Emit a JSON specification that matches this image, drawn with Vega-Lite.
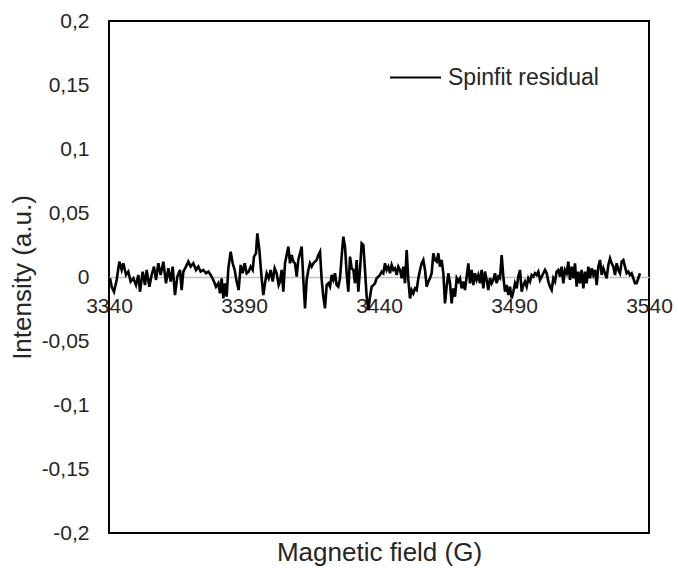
{
  "$schema": "https://vega.github.io/schema/vega-lite/v6.json",
  "autosize": "none",
  "width": 540,
  "height": 512,
  "padding": {"left": 109, "top": 21, "right": 29, "bottom": 38},
  "background": "white",
  "config": {
    "font": "Liberation Sans",
    "view": {"stroke": "black", "strokeWidth": 2}
  },
  "data": {"values": [
    {"B":3340.37,"I":-0.0010},{"B":3340.99,"I":-0.0076},{"B":3341.85,"I":-0.0115},{"B":3342.84,"I":-0.0023},{"B":3343.83,"I":0.0120},{"B":3344.69,"I":0.0055},{"B":3345.31,"I":0.0107},{"B":3346.30,"I":0.0016},{"B":3347.16,"I":0.0042},{"B":3348.02,"I":-0.0036},{"B":3349.01,"I":-0.0010},{"B":3350.00,"I":-0.0063},{"B":3350.86,"I":0.0016},{"B":3351.48,"I":-0.0115},{"B":3352.47,"I":0.0042},{"B":3353.33,"I":-0.0063},{"B":3353.95,"I":0.0055},{"B":3354.94,"I":-0.0076},{"B":3355.80,"I":0.0016},{"B":3356.67,"I":0.0081},{"B":3357.41,"I":-0.0023},{"B":3358.27,"I":0.0107},{"B":3359.14,"I":0.0016},{"B":3360.12,"I":0.0120},{"B":3361.11,"I":-0.0049},{"B":3361.98,"I":0.0068},{"B":3362.84,"I":-0.0036},{"B":3363.58,"I":0.0081},{"B":3364.44,"I":-0.0141},{"B":3365.31,"I":0.0003},{"B":3366.30,"I":0.0055},{"B":3366.91,"I":-0.0102},{"B":3367.53,"I":0.0042},{"B":3368.52,"I":0.0081},{"B":3369.38,"I":0.0120},{"B":3370.25,"I":0.0081},{"B":3371.23,"I":0.0107},{"B":3372.22,"I":0.0055},{"B":3373.09,"I":0.0081},{"B":3373.95,"I":0.0042},{"B":3374.94,"I":0.0055},{"B":3375.93,"I":0.0029},{"B":3376.79,"I":0.0042},{"B":3377.65,"I":0.0016},{"B":3378.64,"I":-0.0023},{"B":3379.63,"I":-0.0076},{"B":3380.49,"I":-0.0049},{"B":3381.11,"I":-0.0128},{"B":3381.73,"I":-0.0010},{"B":3382.35,"I":-0.0167},{"B":3382.96,"I":-0.0049},{"B":3383.58,"I":-0.0154},{"B":3384.20,"I":0.0068},{"B":3385.06,"I":0.0198},{"B":3385.80,"I":0.0107},{"B":3386.54,"I":0.0055},{"B":3387.28,"I":-0.0036},{"B":3388.02,"I":-0.0102},{"B":3388.77,"I":0.0094},{"B":3389.51,"I":0.0029},{"B":3390.25,"I":0.0107},{"B":3390.99,"I":0.0029},{"B":3391.73,"I":0.0042},{"B":3392.47,"I":0.0081},{"B":3393.21,"I":0.0055},{"B":3393.70,"I":0.0159},{"B":3394.44,"I":0.0185},{"B":3394.94,"I":0.0341},{"B":3395.68,"I":0.0211},{"B":3396.54,"I":-0.0010},{"B":3397.16,"I":-0.0141},{"B":3397.78,"I":-0.0049},{"B":3398.40,"I":0.0029},{"B":3399.14,"I":-0.0010},{"B":3399.88,"I":0.0055},{"B":3400.62,"I":-0.0036},{"B":3401.36,"I":0.0068},{"B":3402.10,"I":0.0029},{"B":3402.84,"I":-0.0063},
    {"B":3403.33,"I":-0.0036},{"B":3403.95,"I":0.0055},{"B":3404.57,"I":-0.0115},{"B":3405.19,"I":0.0107},{"B":3405.80,"I":0.0172},{"B":3406.42,"I":0.0237},{"B":3407.04,"I":0.0107},{"B":3407.65,"I":0.0172},{"B":3408.27,"I":0.0120},{"B":3408.89,"I":0.0107},{"B":3409.51,"I":0.0003},{"B":3410.12,"I":0.0133},{"B":3410.74,"I":0.0185},{"B":3411.36,"I":0.0237},{"B":3411.98,"I":-0.0023},{"B":3412.59,"I":-0.0245},{"B":3413.21,"I":-0.0023},{"B":3413.83,"I":0.0055},{"B":3414.44,"I":0.0107},{"B":3415.06,"I":0.0081},{"B":3415.68,"I":0.0107},{"B":3416.30,"I":0.0120},{"B":3416.91,"I":0.0133},{"B":3417.53,"I":0.0172},{"B":3418.15,"I":0.0198},{"B":3418.77,"I":-0.0023},{"B":3419.38,"I":-0.0154},{"B":3420.00,"I":-0.0245},{"B":3420.62,"I":-0.0063},{"B":3421.23,"I":-0.0049},{"B":3421.85,"I":-0.0076},{"B":3422.47,"I":0.0016},{"B":3423.09,"I":-0.0023},{"B":3423.70,"I":0.0029},{"B":3424.32,"I":-0.0063},{"B":3424.94,"I":-0.0076},{"B":3425.56,"I":-0.0010},{"B":3426.17,"I":0.0159},{"B":3426.79,"I":0.0315},{"B":3427.41,"I":0.0237},{"B":3428.02,"I":0.0029},{"B":3428.64,"I":-0.0115},{"B":3429.26,"I":0.0159},{"B":3429.88,"I":0.0068},{"B":3430.49,"I":0.0055},{"B":3431.11,"I":-0.0049},{"B":3431.73,"I":0.0133},{"B":3432.35,"I":-0.0115},{"B":3432.96,"I":0.0055},{"B":3433.58,"I":0.0263},{"B":3434.20,"I":0.0250},{"B":3434.81,"I":0.0055},{"B":3435.43,"I":-0.0154},{"B":3436.05,"I":-0.0258},{"B":3436.67,"I":-0.0154},{"B":3437.28,"I":-0.0076},{"B":3437.90,"I":-0.0063},{"B":3438.52,"I":-0.0049},{"B":3439.14,"I":-0.0010},{"B":3439.75,"I":0.0003},{"B":3440.37,"I":0.0016},{"B":3440.99,"I":0.0042},{"B":3441.60,"I":0.0029},{"B":3442.22,"I":0.0107},{"B":3442.84,"I":0.0055},{"B":3443.46,"I":0.0081},{"B":3444.07,"I":0.0029},{"B":3444.69,"I":0.0094},{"B":3445.31,"I":0.0055},{"B":3445.93,"I":0.0068},{"B":3446.54,"I":0.0016},{"B":3447.16,"I":0.0081},{"B":3447.78,"I":0.0055},{"B":3448.40,"I":-0.0010},{"B":3449.01,"I":0.0081},{"B":3449.63,"I":-0.0049},{"B":3450.25,"I":0.0211},{"B":3450.86,"I":-0.0023},{"B":3451.48,"I":-0.0167},{"B":3452.10,"I":-0.0102},{"B":3452.72,"I":-0.0128},{"B":3453.33,"I":-0.0089},{"B":3453.95,"I":-0.0102},{"B":3454.57,"I":-0.0010},{"B":3455.19,"I":0.0055},{"B":3455.80,"I":0.0107},{"B":3456.42,"I":0.0133},{"B":3457.04,"I":0.0055},{"B":3457.65,"I":-0.0076},{"B":3458.27,"I":-0.0036},{"B":3458.89,"I":-0.0010},{"B":3459.51,"I":0.0029},{"B":3460.12,"I":0.0185},{"B":3460.74,"I":0.0133},{"B":3461.36,"I":0.0120},{"B":3461.98,"I":0.0185},{"B":3462.59,"I":0.0081},{"B":3463.21,"I":0.0133},{"B":3463.83,"I":0.0029},{"B":3464.44,"I":-0.0206},{"B":3465.06,"I":-0.0076},{"B":3465.68,"I":0.0029},{"B":3466.30,"I":-0.0049},{"B":3466.91,"I":-0.0206},{"B":3467.53,"I":-0.0089},{"B":3468.15,"I":-0.0154},{"B":3468.77,"I":-0.0010},{"B":3469.38,"I":-0.0036},
    {"B":3470.00,"I":-0.0010},{"B":3470.62,"I":-0.0089},{"B":3471.23,"I":-0.0036},{"B":3471.85,"I":-0.0102},{"B":3472.47,"I":0.0003},{"B":3473.09,"I":0.0107},{"B":3473.70,"I":-0.0049},{"B":3474.32,"I":0.0055},{"B":3474.94,"I":-0.0063},{"B":3475.56,"I":0.0029},{"B":3476.17,"I":-0.0023},{"B":3476.79,"I":0.0016},{"B":3477.41,"I":-0.0049},{"B":3478.02,"I":0.0055},{"B":3478.64,"I":-0.0089},{"B":3479.26,"I":0.0042},{"B":3479.88,"I":-0.0023},{"B":3480.49,"I":-0.0102},{"B":3481.11,"I":-0.0010},{"B":3481.73,"I":-0.0049},{"B":3482.35,"I":-0.0023},{"B":3482.96,"I":0.0029},{"B":3483.58,"I":-0.0049},{"B":3484.20,"I":0.0003},{"B":3484.81,"I":-0.0010},{"B":3485.43,"I":0.0172},{"B":3486.05,"I":0.0003},{"B":3486.67,"I":-0.0115},{"B":3487.28,"I":-0.0063},{"B":3487.90,"I":-0.0141},{"B":3488.52,"I":-0.0076},{"B":3489.14,"I":-0.0167},{"B":3489.75,"I":-0.0115},{"B":3490.37,"I":-0.0049},{"B":3490.99,"I":-0.0089},{"B":3491.60,"I":0.0003},{"B":3492.22,"I":0.0055},{"B":3492.84,"I":-0.0115},{"B":3493.46,"I":-0.0063},{"B":3494.07,"I":-0.0036},{"B":3494.69,"I":-0.0076},{"B":3495.31,"I":-0.0010},{"B":3495.93,"I":-0.0036},{"B":3496.54,"I":0.0016},{"B":3497.16,"I":0.0003},{"B":3497.78,"I":0.0029},{"B":3498.40,"I":0.0016},{"B":3499.01,"I":0.0042},{"B":3499.63,"I":-0.0023},{"B":3500.25,"I":0.0003},{"B":3500.86,"I":0.0029},{"B":3501.48,"I":0.0055},{"B":3502.10,"I":0.0029},{"B":3502.72,"I":-0.0036},{"B":3503.33,"I":-0.0076},{"B":3503.95,"I":-0.0102},{"B":3504.57,"I":-0.0010},{"B":3505.19,"I":-0.0036},{"B":3505.80,"I":0.0042},{"B":3506.42,"I":0.0055},{"B":3507.04,"I":0.0003},{"B":3507.65,"I":0.0081},{"B":3508.27,"I":-0.0049},{"B":3508.89,"I":0.0055},{"B":3509.51,"I":0.0029},{"B":3510.12,"I":0.0120},{"B":3510.74,"I":-0.0023},{"B":3511.36,"I":0.0081},{"B":3511.98,"I":-0.0010},{"B":3512.59,"I":0.0107},{"B":3513.21,"I":-0.0076},{"B":3513.83,"I":0.0042},{"B":3514.44,"I":-0.0049},{"B":3515.06,"I":0.0055},{"B":3515.68,"I":-0.0089},{"B":3516.30,"I":0.0042},{"B":3516.91,"I":-0.0049},{"B":3517.53,"I":0.0081},{"B":3518.15,"I":-0.0010},{"B":3518.77,"I":0.0068},{"B":3519.38,"I":0.0016},{"B":3520.00,"I":0.0055},{"B":3520.62,"I":-0.0063},{"B":3521.23,"I":0.0081},{"B":3521.85,"I":0.0133},{"B":3522.47,"I":0.0016},{"B":3523.09,"I":0.0068},{"B":3523.70,"I":0.0029},{"B":3524.32,"I":-0.0010},{"B":3524.94,"I":0.0094},{"B":3525.56,"I":0.0146},{"B":3526.17,"I":0.0107},{"B":3526.79,"I":0.0081},{"B":3527.41,"I":0.0016},{"B":3528.02,"I":0.0107},{"B":3528.64,"I":0.0055},{"B":3529.26,"I":0.0029},{"B":3529.88,"I":0.0120},{"B":3530.49,"I":0.0133},{"B":3531.11,"I":0.0081},{"B":3531.73,"I":0.0029},{"B":3532.35,"I":0.0042},{"B":3532.96,"I":0.0016},{"B":3533.58,"I":0.0029},{"B":3534.20,"I":-0.0010},{"B":3534.81,"I":-0.0049},{"B":3535.43,"I":-0.0049},{"B":3536.05,"I":-0.0010},{"B":3536.67,"I":0.0029}
  ]},
  "mark": {"type": "line", "strokeWidth": 2.6, "interpolate": "linear"},
  "encoding": {
    "x": {
      "field": "B", "type": "quantitative",
      "scale": {"domain": [3340, 3540], "nice": false, "zero": false},
      "axis": {
        "title": "Magnetic field (G)",
        "values": [3340, 3390, 3440, 3490, 3540],
        "offset": -256,
        "grid": false, "ticks": false,
        "domainColor": "#bfbfbf", "domainWidth": 1.5,
        "labelFontSize": 21, "labelColor": "#262626", "labelPadding": 18,
        "labelFlush": false, "labelOverlap": false,
        "labelExpr": "toString(datum.value)",
        "titleFontSize": 26, "titleFontWeight": "normal", "titleColor": "#262626",
        "titleBaseline": "middle", "titleY": 275
      }
    },
    "y": {
      "field": "I", "type": "quantitative",
      "scale": {"domain": [-0.2, 0.2], "nice": false},
      "axis": {
        "title": "Intensity (a.u.)",
        "values": [-0.2, -0.15, -0.1, -0.05, 0, 0.05, 0.1, 0.15, 0.2],
        "grid": false, "ticks": false, "domain": false,
        "labelFontSize": 21, "labelColor": "#262626", "labelPadding": 20,
        "labelExpr": "replace(toString(datum.value), '.', ',')",
        "titleFontSize": 26, "titleFontWeight": "normal", "titleColor": "#262626",
        "titlePadding": 6
      }
    },
    "color": {
      "datum": "Spinfit residual",
      "scale": {"range": ["black"]},
      "legend": {
        "title": null,
        "orient": "none",
        "legendX": 280,
        "legendY": 30,
        "padding": 0,
        "symbolType": "stroke",
        "symbolSize": 2600,
        "symbolStrokeWidth": 2,
        "labelFontSize": 23,
        "labelColor": "#262626",
        "labelOffset": 6
      }
    }
  }
}
